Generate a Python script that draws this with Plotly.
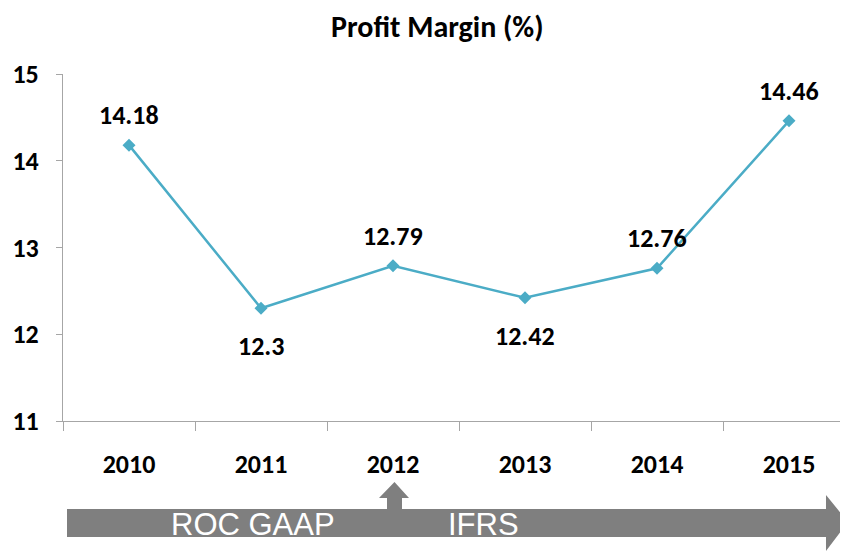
import plotly.graph_objects as go

years = ["2010", "2011", "2012", "2013", "2014", "2015"]
margin_pct = [14.18, 12.3, 12.79, 12.42, 12.76, 14.46]
label_pos = ["above", "below", "above", "below", "above", "above"]
y_ticks = [11, 12, 13, 14, 15]

# page body margin offsets the figure by 8px in the screenshot
OFF = 8
W, H = 848 - OFF, 551 - OFF
AX_L, AX_T, AX_B = 63, 74, 421
L, T, R, B = AX_L - OFF, AX_T - OFF, 0, H - (AX_B - OFF)
PW, PH = W - L - R, H - T - B

def px(x):
    return (x - OFF - L) / PW

def py(y):
    return (H - B - (y - OFF)) / PH

FONT = "Carlito, 'Liberation Sans Narrow', 'Arial Narrow', 'DejaVu Sans Condensed', sans-serif"
LINE = "#4BACC6"
GRAY = "#7F7F7F"

fig = go.Figure()
fig.add_trace(go.Scatter(
    x=years, y=margin_pct, mode="lines+markers",
    line=dict(color=LINE, width=2.5),
    marker=dict(symbol="diamond", size=10, color=LINE),
    hoverinfo="skip", showlegend=False,
))

annotations = []
for i, (v, pos) in enumerate(zip(margin_pct, label_pos)):
    annotations.append(dict(
        x=i, y=v, xref="x", yref="y", text=f"<b>{v:g}</b>", showarrow=False,
        yshift=30 if pos == "above" else -38,
        xanchor="center", yanchor="middle",
        font=dict(family=FONT, size=26, color="#000000"),
    ))

annotations.append(dict(
    text="<b>Profit Margin (%)</b>", x=px(437), y=py(26), xref="paper", yref="paper",
    showarrow=False, font=dict(family=FONT, size=30, color="#000000"),
    xanchor="center", yanchor="middle",
))

for txt, cx in [("ROC GAAP", 253), ("IFRS", 483)]:
    annotations.append(dict(
        text=txt, x=px(cx), y=py(524), xref="paper", yref="paper", showarrow=False,
        font=dict(family="'Liberation Sans', Arial, sans-serif", size=31, color="#FFFFFF"),
        xanchor="center", yanchor="middle",
    ))

big = [(67, 509), (826, 509), (826, 495), (848, 522), (826, 551), (826, 537), (67, 537)]
small = [(387, 510), (387, 498), (379, 498), (394.5, 482), (409, 498), (402, 498), (402, 510)]

def path(pts):
    return "M " + " L ".join(f"{px(x):.5f},{py(y):.5f}" for x, y in pts) + " Z"

shapes = [
    dict(type="path", path=path(big), xref="paper", yref="paper",
         fillcolor=GRAY, line=dict(width=0), layer="below"),
    dict(type="path", path=path(small), xref="paper", yref="paper",
         fillcolor=GRAY, line=dict(width=0), layer="below"),
]

fig.update_layout(
    width=W, height=H,
    margin=dict(l=L, r=R, t=T, b=B, pad=0),
    paper_bgcolor="white", plot_bgcolor="white",
    annotations=annotations, shapes=shapes,
    xaxis=dict(
        type="category", range=[-0.5, -0.5 + PW / 132],
        showgrid=False, zeroline=False,
        showline=True, linecolor="#A6A6A6", linewidth=1,
        ticks="outside", ticklen=9, tickcolor="#A6A6A6", tickson="boundaries",
        tickfont=dict(family=FONT, size=26, color="#000000", weight="bold"),
        ticklabelstandoff=20,
    ),
    yaxis=dict(
        range=[11, 15], tickvals=y_ticks,
        ticktext=[f"<b>{t}</b>" for t in y_ticks],
        showgrid=False, zeroline=False,
        showline=True, linecolor="#A6A6A6", linewidth=1,
        ticks="outside", ticklen=6, tickcolor="#A6A6A6",
        tickfont=dict(family=FONT, size=26, color="#000000", weight="bold"),
        ticklabelstandoff=12,
    ),
)

fig.write_html("out.html")
